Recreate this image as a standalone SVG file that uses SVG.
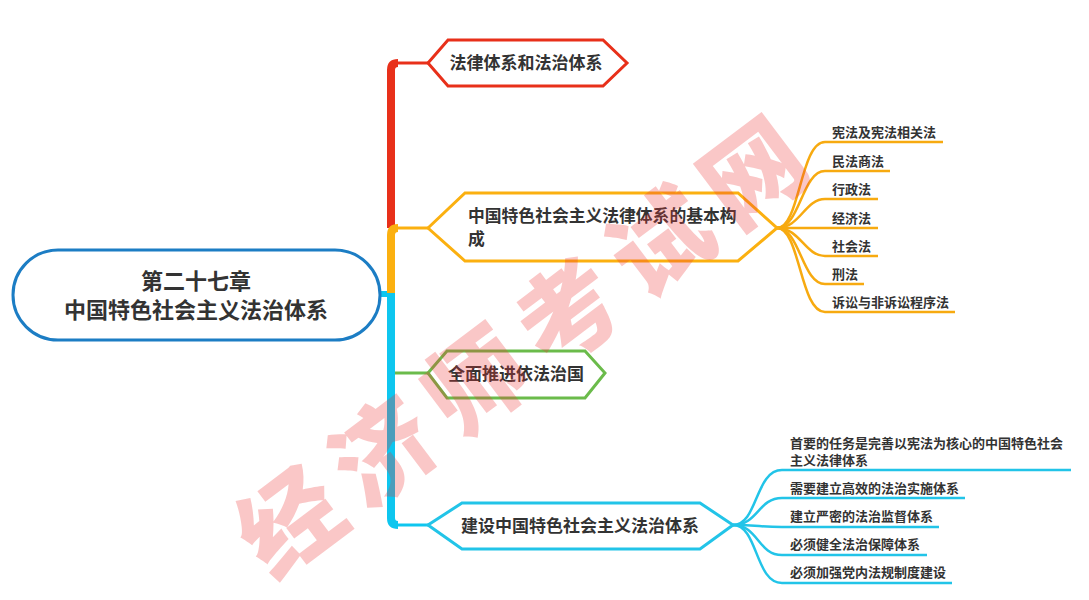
<svg xmlns="http://www.w3.org/2000/svg" width="1089" height="600" viewBox="0 0 1089 600">
<style>
text{font-family:"Noto Sans CJK SC","Noto Sans",sans-serif;font-weight:bold;fill:#333}
.hex{fill:#fff;stroke-width:3;stroke-linejoin:miter}
.c{fill:none;stroke-linecap:butt}
.t{font-size:17px}
.leaf{font-size:13px}
.or{stroke:#f7aa10}
.cy{stroke:#22c4e8}
.wm{fill:#ee3333;font-weight:900;font-size:100px}
</style>
<rect width="1089" height="600" fill="#fff"/>
<g id="connectors">
  <path class="c" d="M380,294 H391" stroke="#0ec6ef" stroke-width="6"/>
  <path class="c" d="M391,228 V70 Q391,63 398,63" stroke="#e8301a" stroke-width="8"/>
  <path class="c" d="M397,63 H428" stroke="#e8301a" stroke-width="3"/>
  <path class="c" d="M391,294 V235 Q391,228 398,228" stroke="#fbb010" stroke-width="8"/>
  <path class="c" d="M397,228 H428" stroke="#fbb010" stroke-width="3"/>
  <path class="c" d="M391,293 V518 Q391,525 398,525" stroke="#0ec6ef" stroke-width="8"/>
  <path class="c" d="M397,525 H428" stroke="#0ec6ef" stroke-width="3"/>
  <path class="c" d="M395,373 H428" stroke="#6bbb4b" stroke-width="3"/>
  <g class="or" fill="none" stroke-width="2.5">
    <path d="M777,228 C800,228 800,142 825,142 H943"/>
    <path d="M777,228 C800,228 802,171 825,171 H890"/>
    <path d="M777,228 C800,228 805,199 825,199 H878"/>
    <path d="M777,228 H878"/>
    <path d="M777,228 C800,228 805,256 825,256 H878"/>
    <path d="M777,228 C800,228 802,284 825,284 H864"/>
    <path d="M777,228 C800,228 800,312 825,312 H955"/>
  </g>
  <g class="cy" fill="none" stroke-width="2.5">
    <path d="M733,525 C758,525 755,470 782,470 H1071"/>
    <path d="M733,525 C758,525 758,498 782,498 H965"/>
    <path d="M733,525 C758,525 760,527 782,527 H939"/>
    <path d="M733,525 C758,525 758,555 782,555 H927"/>
    <path d="M733,525 C758,525 755,583 782,583 H952"/>
  </g>
</g>
<g id="root">
  <rect x="13" y="250" width="367" height="90" rx="45" ry="45" fill="#fff" stroke="#1c7dc4" stroke-width="3"/>
  <text x="196" y="289" text-anchor="middle" font-size="22">第二十七章</text>
  <text x="196" y="318" text-anchor="middle" font-size="22">中国特色社会主义法治体系</text>
</g>
<g id="node1">
  <polygon class="hex" points="428,63 448,40 603,40 627,63 603,86 448,86" stroke="#e8301a"/>
  <text class="t" x="526" y="69" text-anchor="middle">法律体系和法治体系</text>
</g>
<g id="node2">
  <polygon class="hex" points="428,228 465,193 738,193 777,228 738,261 465,261" stroke="#fbb010"/>
  <text x="468" y="222" font-size="16.8">中国特色社会主义法律体系的基本构</text>
  <text x="468" y="245" font-size="16.8">成</text>
</g>
<g id="node2-leaves">
  <text class="leaf" x="832" y="137">宪法及宪法相关法</text>
  <text class="leaf" x="832" y="166">民法商法</text>
  <text class="leaf" x="832" y="194">行政法</text>
  <text class="leaf" x="832" y="223">经济法</text>
  <text class="leaf" x="832" y="251">社会法</text>
  <text class="leaf" x="832" y="279">刑法</text>
  <text class="leaf" x="832" y="307">诉讼与非诉讼程序法</text>
</g>
<g id="node3">
  <polygon class="hex" points="428,373 447,351 585,351 605,373 585,398 447,398" stroke="#6bbb4b"/>
  <text class="t" x="516" y="380" text-anchor="middle">全面推进依法治国</text>
</g>
<g id="node4">
  <polygon class="hex" points="428,525 462,503 700,503 733,525 700,549 462,549" stroke="#22c4e8"/>
  <text class="t" x="580" y="532" text-anchor="middle">建设中国特色社会主义法治体系</text>
</g>
<g id="node4-leaves">
  <text class="leaf" x="790" y="448" font-size="13.6">首要的任务是完善以宪法为核心的中国特色社会</text>
  <text class="leaf" x="790" y="465" font-size="13.6">主义法律体系</text>
  <text class="leaf" x="790" y="493">需要建立高效的法治实施体系</text>
  <text class="leaf" x="790" y="521">建立严密的法治监督体系</text>
  <text class="leaf" x="790" y="549">必须健全法治保障体系</text>
  <text class="leaf" x="790" y="577">必须加强党内法规制度建设</text>
</g>
<g id="watermark" opacity="0.27">
  <text class="wm" x="524" y="337" text-anchor="middle" dominant-baseline="central" letter-spacing="16" transform="rotate(-37 524 337)">经济师考试网</text>
</g>
</svg>
